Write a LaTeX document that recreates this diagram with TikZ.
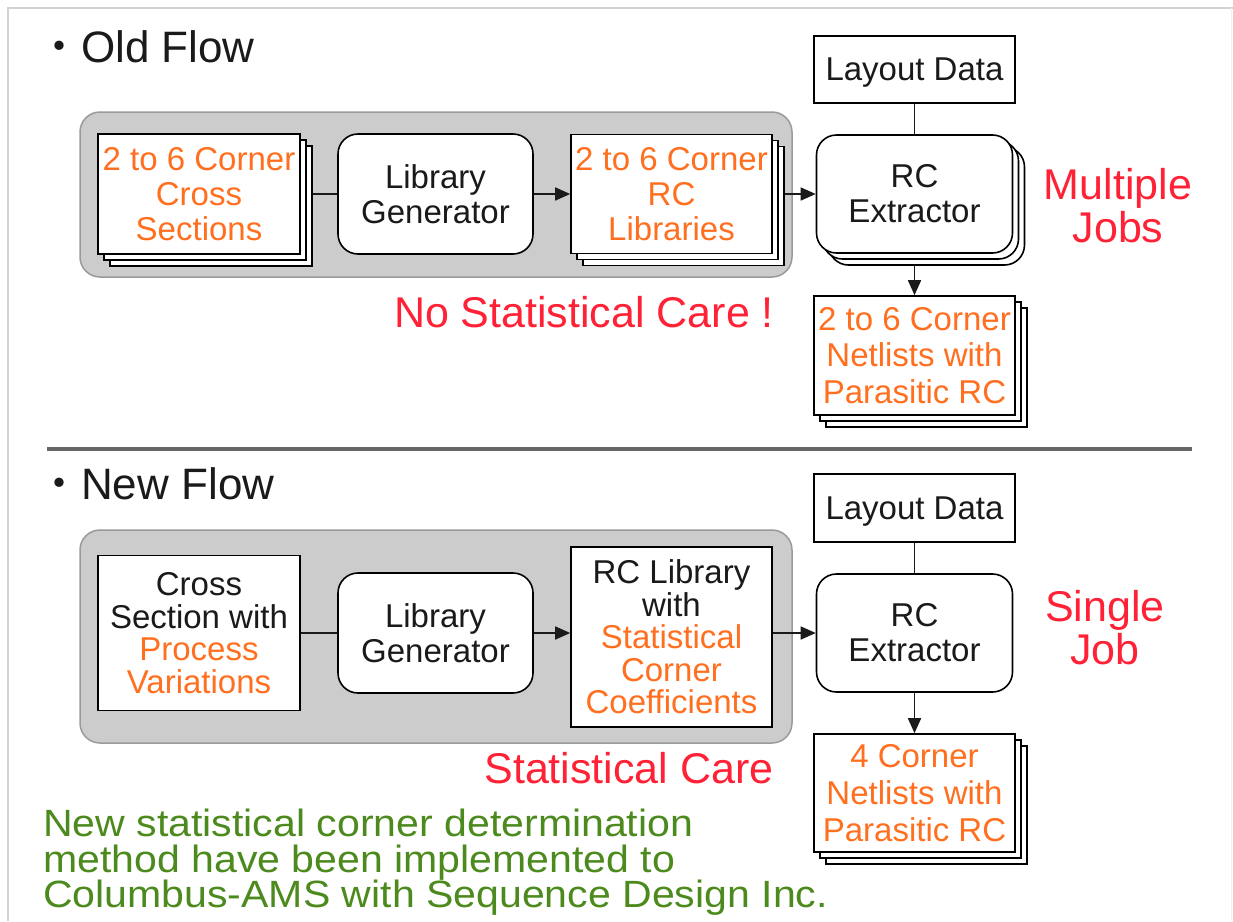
\documentclass[tikz,border=0pt]{standalone}
\usepackage{fontspec}
\setmainfont{Liberation Sans}
\newfontfamily\cjkfont{Noto Sans CJK JP}
\newfontfamily\widefont[FakeStretch=1.08]{Liberation Sans}
\usetikzlibrary{arrows.meta,shadows}

\definecolor{inkblack}{HTML}{1A1A1A}
\definecolor{accentorange}{HTML}{FF6F1F}
\definecolor{alertred}{HTML}{FF2236}
\definecolor{notegreen}{HTML}{4C8A1E}
\definecolor{panelgray}{HTML}{CCCCCC}
\definecolor{paneledge}{HTML}{9A9A9A}
\definecolor{rulegray}{HTML}{666666}
\definecolor{framegray}{HTML}{D2D2D2}

\begin{document}
\begin{tikzpicture}[x=1pt,y=-1pt,
  box/.style={draw=black, line width=1.6pt, fill=white, inner sep=0pt,
    align=center, text=inkblack, font=\fontsize{33}{35}\selectfont},
  roundbox/.style={box, rounded corners=20pt},
  stackbox/.style={box,
    general shadow={shadow xshift=12pt, shadow yshift=-12pt,
      draw=black, fill=white, line width=1.6pt},
    general shadow={shadow xshift=6pt, shadow yshift=-6pt,
      draw=black, fill=white, line width=1.6pt}},
  panel/.style={fill=panelgray, draw=paneledge, line width=1.5pt, rounded corners=20pt},
  conn/.style={draw=inkblack, line width=1.6pt},
  flow/.style={conn, -{Triangle[length=15pt,width=13pt]}},
  title/.style={font=\fontsize{44}{44}\selectfont, text=inkblack, inner sep=0pt, anchor=base west},
  alert/.style={font=\fontsize{43}{43}\selectfont, text=alertred, inner sep=0pt, align=center},
  note/.style={font=\widefont\fontsize{38}{35.5}\selectfont, text=notegreen, inner sep=0pt,
    align=left, anchor=north west},
]
\useasboundingbox (0,0) rectangle (1233,921);

% page frame
\draw[framegray, line width=2pt] (8,921) -- (8,7.5) -- (1233,7.5);
\draw[black!6, line width=1pt] (1231.5,7.5) -- (1231.5,921);

% ---------------- old flow ----------------
\node[title] (oldtitle) at (37,62) {{\cjkfont ・}Old Flow};
\draw[panel] (80,112) rectangle (792,277);

\node[stackbox, minimum width=202pt, minimum height=120pt, text=accentorange]
  (xsec) at (199,194) {2 to 6 Corner\\Cross\\Sections};
\node[roundbox, minimum width=195pt, minimum height=120pt]
  (gen) at (435.5,194) {Library\\Generator};
\node[stackbox, minimum width=201pt, minimum height=119pt, text=accentorange]
  (rclib) at (671.5,194) {2 to 6 Corner\\RC\\Libraries};
\node[stackbox, rounded corners=20pt, minimum width=196pt, minimum height=118pt]
  (ext) at (914.5,194) {RC\\Extractor};
\node[box, minimum width=201pt, minimum height=67pt, text depth=0pt]
  (lay) at (914.5,69.5) {Layout Data};
\node[stackbox, minimum width=201pt, minimum height=119pt,
  font=\fontsize{33}{36.5}\selectfont, text=accentorange]
  (net) at (914.5,355.5) {2 to 6 Corner\\Netlists with\\Parasitic RC};

\draw[conn] ([xshift=12pt]xsec.east) -- (gen.west);
\draw[flow] (gen.east) -- (rclib.west);
\draw[flow] ([xshift=12pt]rclib.east) -- (ext.west);
\draw[conn] (lay.south) -- (ext.north);
\draw[flow] ([yshift=-12pt]ext.south) -- (net.north);

\node[alert] (multi) at (1118,206) {Multiple\\Jobs};
\node[alert, anchor=base] (nocare) at (584,327) {No Statistical Care !};

% separator
\draw[rulegray, line width=4.5pt] (47,449) -- (1192,449);

% ---------------- new flow ----------------
\node[title] (newtitle) at (37,499) {{\cjkfont ・}New Flow};
\draw[panel] (80,530) rectangle (792,743);

\node[box, minimum width=202pt, minimum height=155pt, font=\fontsize{33}{32.5}\selectfont]
  (xsec2) at (199,633) {Cross\\Section with\\\textcolor{accentorange}{Process}\\\textcolor{accentorange}{Variations}};
\node[roundbox, minimum width=195pt, minimum height=120pt]
  (gen2) at (435.5,633) {Library\\Generator};
\node[box, minimum width=201pt, minimum height=180pt, font=\fontsize{33}{32.5}\selectfont]
  (rclib2) at (671.5,637) {RC Library\\with\\\textcolor{accentorange}{Statistical}\\\textcolor{accentorange}{Corner}\\\textcolor{accentorange}{Coefficients}};
\node[roundbox, minimum width=196pt, minimum height=118pt]
  (ext2) at (914.5,633) {RC\\Extractor};
\node[box, minimum width=201pt, minimum height=68pt, text depth=0pt]
  (lay2) at (914.5,508) {Layout Data};
\node[stackbox, minimum width=201pt, minimum height=118pt,
  font=\fontsize{33}{37}\selectfont, text=accentorange]
  (net2) at (914.5,793) {4 Corner\\Netlists with\\Parasitic RC};

\draw[conn] (xsec2.east) -- (gen2.west);
\draw[flow] (gen2.east) -- (gen2.east -| rclib2.west);
\draw[flow] (rclib2.east |- ext2.west) -- (ext2.west);
\draw[conn] (lay2.south) -- (ext2.north);
\draw[flow] (ext2.south) -- (net2.north);

\node[alert] (single) at (1105,628) {Single\\Job};
\node[alert, anchor=base] (care) at (629,783) {Statistical Care};

\node[note] (credit) at (43,809)
  {New statistical corner determination\\method have been implemented to\\Columbus-AMS with Sequence Design Inc.};
\end{tikzpicture}
\end{document}
